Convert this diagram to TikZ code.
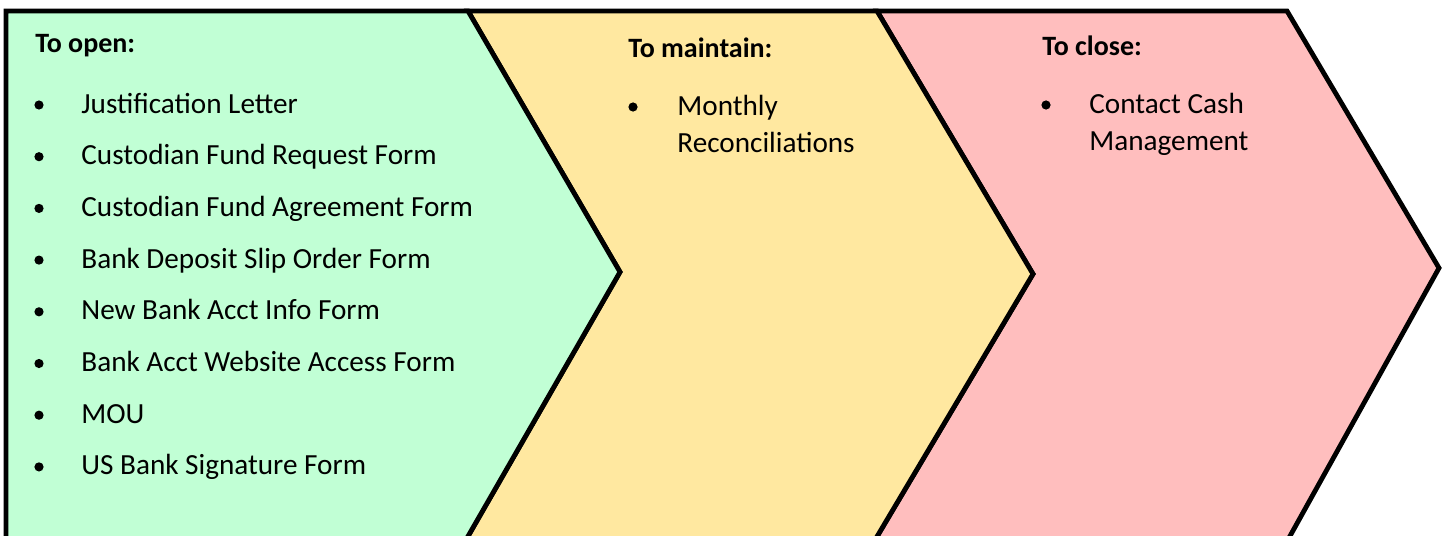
\documentclass[tikz,border=0pt]{standalone}
\usepackage{fontspec}
\setmainfont{Carlito}
\definecolor{cgreen}{RGB}{193,255,213}
\definecolor{cyellow}{RGB}{255,232,160}
\definecolor{cpink}{RGB}{255,190,190}
\tikzset{
  chev/.style={draw=black, line width=2.4pt, line join=miter},
  head/.style={anchor=base west, inner sep=0pt, font=\fontsize{14}{17}\selectfont\bfseries},
  item/.style={anchor=base west, inner sep=0pt, font=\fontsize{14.6}{18}\selectfont},
  dot/.style={circle, fill=black, inner sep=0pt, minimum size=4.6pt}
}
\begin{document}
\begin{tikzpicture}[x=0.5pt, y=-0.5pt]
\useasboundingbox (0,0) rectangle (1443,535);
\clip (0,0) rectangle (1443,535);
% chevrons
\path[chev, fill=cpink] (877,11) -- (1287,11) -- (1439,268) -- (1285,545) -- (872,545) -- (1033,274) -- cycle;
\path[chev, fill=cyellow] (468,11) -- (877,11) -- (1033,274) -- (872,545) -- (463,545) -- (620,272) -- cycle;
\path[chev, fill=cgreen] (6,11) -- (468,11) -- (620,272) -- (463,545) -- (6,545) -- cycle;
% To open
\node[head] (h1) at (35,53) {To open:};
\foreach \t [count=\i] in {Justification Letter, Custodian Fund Request Form, Custodian Fund Agreement Form, Bank Deposit Slip Order Form, New Bank Acct Info Form, Bank Acct Website Access Form, MOU, US Bank Signature Form}{
  \node[item] (o\i) at (81,{113+(\i-1)*51.7}) {\t};
  \node[dot] (ob\i) at (39,{113+(\i-1)*51.7-8}) {};
}
% To maintain
\node[head] (h2) at (628,58) {To maintain:};
\node[item] (m1) at (677,115) {Monthly};
\node[item] (m2) at (677,152) {Reconciliations};
\node[dot] (mb1) at (633,107) {};
% To close
\node[head] (h3) at (1042,56) {To close:};
\node[item] (c1) at (1089,113) {Contact Cash};
\node[item] (c2) at (1089,150) {Management};
\node[dot] (cb1) at (1046,105) {};
\end{tikzpicture}
\end{document}
